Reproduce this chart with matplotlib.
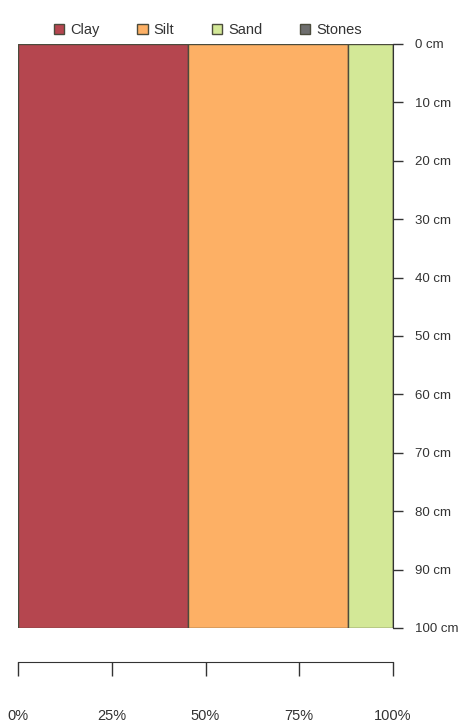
import numpy as np
import matplotlib.pyplot as plt

plt.rcParams['font.family'] = ['Liberation Sans Narrow', 'DejaVu Sans Condensed', 'Liberation Sans', 'DejaVu Sans']

components = ['Clay', 'Silt', 'Sand', 'Stones']
percent = [45.3, 42.7, 12.0, 0.0]
colors = ['#B5464F', '#FDB065', '#D3E897', '#6E6E6E']
depth_ticks = [0, 10, 20, 30, 40, 50, 60, 70, 80, 90, 100]
pct_ticks = [0, 25, 50, 75, 100]

W, H = 463, 726
fig = plt.figure(figsize=(W / 100, H / 100), dpi=100)

# main profile column
x0, x1, y0, y1 = 18, 393, 44, 628
ax = fig.add_axes([x0 / W, 1 - y1 / H, (x1 - x0) / W, (y1 - y0) / H])
left = 0
handles = []
for name, p, c in zip(components, percent, colors):
    b = ax.barh(50, p, height=100, left=left, color=c, edgecolor='#4b4b3c',
                linewidth=1, label=name)
    handles.append(b)
    left += p
ax.set_xlim(0, 100)
ax.set_ylim(100, 0)
for s in ['left', 'top', 'bottom']:
    ax.spines[s].set_visible(False)
ax.spines['right'].set_color('#333333')
ax.set_xticks([])
ax.yaxis.tick_right()
ax.set_yticks(depth_ticks)
ax.set_yticklabels([f'{d} cm' for d in depth_ticks])
ax.tick_params(axis='y', direction='out', length=7, width=1, color='#333333',
               labelsize=9.5, labelcolor='#333333', pad=9)

# legend
fig.legend(handles=handles, labels=components, loc='center',
           bbox_to_anchor=(208 / W, 1 - 30 / H), ncol=4, frameon=False,
           fontsize=10.5, handlelength=0.7, handleheight=0.7, columnspacing=2.6,
           handletextpad=0.4, labelcolor='#333333')

# percent scale below
yb = 662
axb = fig.add_axes([x0 / W, 1 - yb / H, (x1 - x0) / W, 0.0001])
axb.set_xlim(0, 100)
axb.set_yticks([])
for s in ['left', 'top', 'right']:
    axb.spines[s].set_visible(False)
axb.spines['bottom'].set_color('#333333')
axb.set_xticks(pct_ticks)
axb.set_xticklabels([f'{p}%' for p in pct_ticks])
axb.tick_params(axis='x', direction='out', length=10, width=1, color='#333333',
                labelsize=10.5, labelcolor='#333333', pad=24)

fig.savefig('out.png', dpi=100)
